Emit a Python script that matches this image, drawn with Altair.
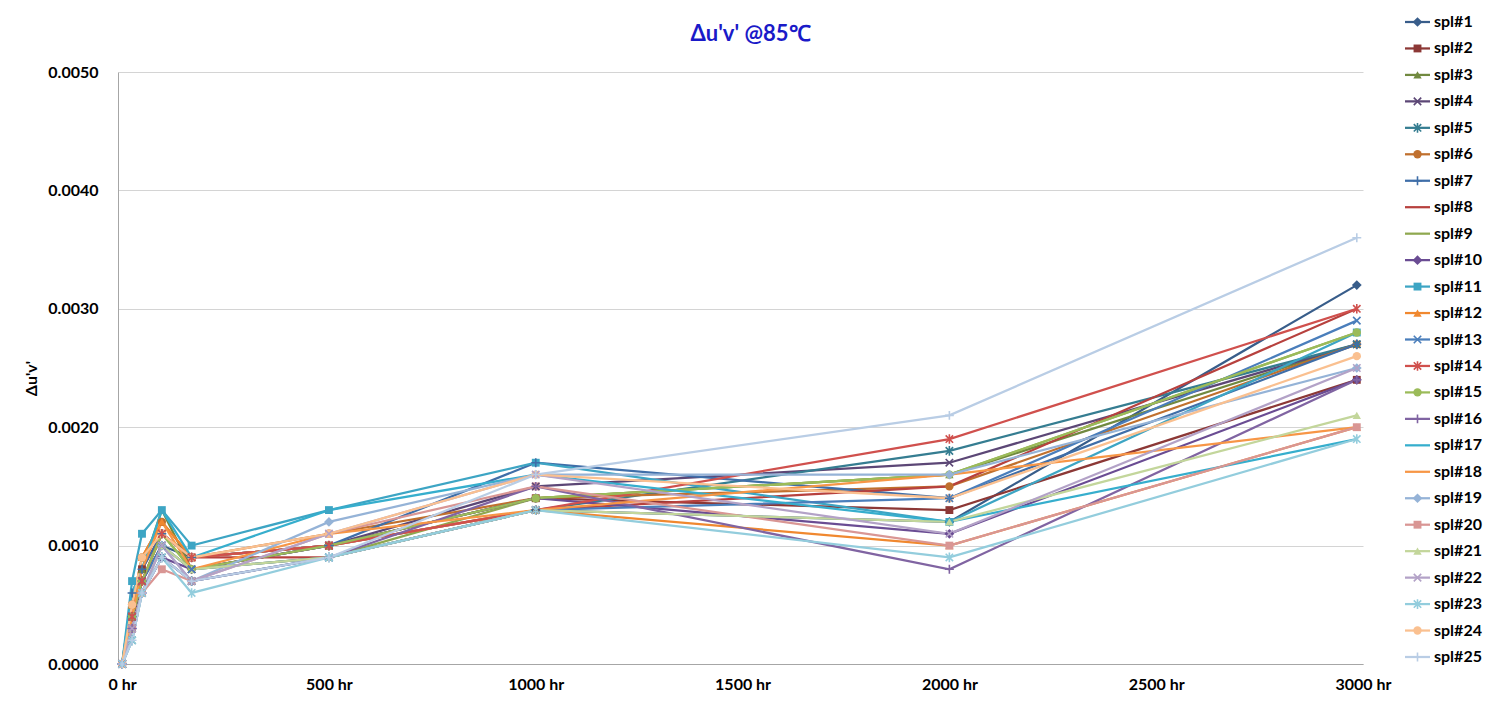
import altair as alt
import pandas as pd

# ---------------- data ----------------
hours = [0, 24, 48, 96, 168, 500, 1000, 2000, 2985]
series_names = [f"spl#{i}" for i in range(1, 26)]

spl01 = [0, 0.0004, 0.0007, 0.0010, 0.0009, 0.0010, 0.0013, 0.0012, 0.0032]
spl02 = [0, 0.0004, 0.0008, 0.0011, 0.0009, 0.0010, 0.0014, 0.0013, 0.0024]
spl03 = [0, 0.0005, 0.0008, 0.0013, 0.0008, 0.0010, 0.0014, 0.0016, 0.0027]
spl04 = [0, 0.0003, 0.0007, 0.0010, 0.0008, 0.0010, 0.0015, 0.0017, 0.0027]
spl05 = [0, 0.0002, 0.0006, 0.0009, 0.0007, 0.0009, 0.0013, 0.0018, 0.0027]
spl06 = [0, 0.0005, 0.0009, 0.0012, 0.0009, 0.0011, 0.0014, 0.0015, 0.0027]
spl07 = [0, 0.0006, 0.0008, 0.0011, 0.0009, 0.0010, 0.0017, 0.0014, 0.0027]
spl08 = [0, 0.0004, 0.0007, 0.0011, 0.0009, 0.0009, 0.0013, 0.0015, 0.0030]
spl09 = [0, 0.0004, 0.0007, 0.0011, 0.0008, 0.0009, 0.0014, 0.0016, 0.0028]
spl10 = [0, 0.0003, 0.0006, 0.0009, 0.0008, 0.0010, 0.0014, 0.0011, 0.0024]
spl11 = [0, 0.0007, 0.0011, 0.0013, 0.0010, 0.0013, 0.0017, 0.0012, 0.0028]
spl12 = [0, 0.0005, 0.0009, 0.0012, 0.0009, 0.0010, 0.0013, 0.0010, 0.0020]
spl13 = [0, 0.0004, 0.0007, 0.0010, 0.0008, 0.0009, 0.0013, 0.0014, 0.0029]
spl14 = [0, 0.0004, 0.0007, 0.0011, 0.0009, 0.0010, 0.0013, 0.0019, 0.0030]
spl15 = [0, 0.0004, 0.0007, 0.0011, 0.0008, 0.0010, 0.0014, 0.0016, 0.0028]
spl16 = [0, 0.0003, 0.0006, 0.0009, 0.0007, 0.0009, 0.0015, 0.0008, 0.0024]
spl17 = [0, 0.0006, 0.0008, 0.0013, 0.0009, 0.0013, 0.0016, 0.0012, 0.0019]
spl18 = [0, 0.0004, 0.0008, 0.0012, 0.0008, 0.0011, 0.0013, 0.0016, 0.0020]
spl19 = [0, 0.0003, 0.0006, 0.0010, 0.0007, 0.0012, 0.0016, 0.0016, 0.0025]
spl20 = [0, 0.0003, 0.0006, 0.0008, 0.0007, 0.0011, 0.0015, 0.0010, 0.0020]
spl21 = [0, 0.0003, 0.0006, 0.0010, 0.0008, 0.0009, 0.0013, 0.0012, 0.0021]
spl22 = [0, 0.0003, 0.0006, 0.0010, 0.0007, 0.0011, 0.0016, 0.0011, 0.0025]
spl23 = [0, 0.0002, 0.0006, 0.0009, 0.0006, 0.0009, 0.0013, 0.0009, 0.0019]
spl24 = [0, 0.0005, 0.0009, 0.0011, 0.0009, 0.0011, 0.0016, 0.0014, 0.0026]
spl25 = [0, 0.0002, 0.0006, 0.0009, 0.0007, 0.0009, 0.0016, 0.0021, 0.0036]

all_values = [spl01, spl02, spl03, spl04, spl05, spl06, spl07, spl08, spl09, spl10,
              spl11, spl12, spl13, spl14, spl15, spl16, spl17, spl18, spl19, spl20,
              spl21, spl22, spl23, spl24, spl25]

series_colors = ["#385D8A", "#8C3836", "#71893F", "#5C4776", "#357D91", "#C0702E",
                 "#3F6EA8", "#B7413E", "#8FA84F", "#6A4C93", "#3DA5C4", "#F0882F",
                 "#4A7EBB", "#D0504D", "#9BBB59", "#8064A2", "#36AECD", "#F79646",
                 "#95B3D7", "#D99694", "#C3D69B", "#B3A2C7", "#93CDDD", "#FAC090",
                 "#B9CDE5"]

series_markers = ["diamond", "square", "triangle", "x", "star", "circle", "plus", "none", "none",
                  "diamond", "square", "triangle", "x", "star", "circle", "plus", "none", "none",
                  "diamond", "square", "triangle", "x", "star", "circle", "plus"]

x_ticks = [0, 500, 1000, 1500, 2000, 2500, 3000]
y_ticks = [0, 0.001, 0.002, 0.003, 0.004, 0.005]

# marker styling
shape_map = {
    "diamond": ("diamond", 95, True),
    "square": ("square", 62, True),
    "triangle": ("triangle-up", 70, True),
    "circle": ("circle", 70, True),
    "x": ("M-1,-1L1,1M-1,1L1,-1", 55, False),
    "star": ("M-1,-1L1,1M-1,1L1,-1M0,-1.3L0,1.3", 55, False),
    "plus": ("M-1.2,0L1.2,0M0,-1.2L0,1.2", 55, False),
}

rows = []
leg_rows = []
for i, (name, vals, col, mk) in enumerate(zip(series_names, all_values, series_colors, series_markers)):
    shp, sz, filled = shape_map.get(mk, ("", 0, None))
    for h, v in zip(hours, vals):
        rows.append(dict(series=name, order=i, hour=h, value=v, color=col,
                         marker=mk, shape=shp, msize=sz, filled=filled))
    leg_rows.append(dict(series=name, idx=i, color=col, marker=mk, shape=shp,
                         msize=sz, filled=filled, x0=0.0, x1=1.0, xm=0.5))

df = pd.DataFrame(rows)
leg = pd.DataFrame(leg_rows)

FONT = "Lato"

xs = alt.Scale(domain=[-10, 3000], nice=False, zero=False)
ys = alt.Scale(domain=[0, 0.005], nice=False)

x_axis = alt.Axis(values=x_ticks, labelExpr="datum.value + ' hr'", grid=False, ticks=False,
                  title=None, labelPadding=12, labelFlush=False, domainColor="#A6A6A6")
y_axis = alt.Axis(values=y_ticks, format=".4f", grid=True, ticks=False, title="Δu'v'",
                  labelPadding=20, titlePadding=8, domainColor="#A6A6A6", gridColor="#D4D4D4",
                  titleY=306)

base = alt.Chart(df)
lines = base.mark_line(strokeWidth=2.25).encode(
    x=alt.X("hour:Q", scale=xs, axis=x_axis),
    y=alt.Y("value:Q", scale=ys, axis=y_axis),
    color=alt.Color("color:N", scale=None),
    detail="series:N",
    order="hour:Q",
)
pts_filled = base.transform_filter("datum.filled === true").mark_point(filled=True, opacity=1).encode(
    x=alt.X("hour:Q", scale=xs),
    y=alt.Y("value:Q", scale=ys),
    color=alt.Color("color:N", scale=None),
    shape=alt.Shape("shape:N", scale=None),
    size=alt.Size("msize:Q", scale=None),
)
pts_stroked = base.transform_filter("datum.filled === false").mark_point(filled=False, opacity=1, strokeWidth=1.6).encode(
    x=alt.X("hour:Q", scale=xs),
    y=alt.Y("value:Q", scale=ys),
    color=alt.Color("color:N", scale=None),
    shape=alt.Shape("shape:N", scale=None),
    size=alt.Size("msize:Q", scale=None),
)
main = alt.layer(lines, pts_filled, pts_stroked)

# legend built from the series table
lxs = alt.Scale(domain=[0, 1], range=[1287, 1312])
lys = alt.Scale(domain=[0, 24], range=[-50, 585])
lbase = alt.Chart(leg)
leg_line = lbase.mark_rule(strokeWidth=2.25).encode(
    x=alt.X("x0:Q", scale=lxs, axis=None),
    x2="x1:Q",
    y=alt.Y("idx:Q", scale=lys, axis=None),
    color=alt.Color("color:N", scale=None),
)
leg_pf = lbase.transform_filter("datum.filled === true").mark_point(filled=True, opacity=1).encode(
    x=alt.X("xm:Q", scale=lxs, axis=None),
    y=alt.Y("idx:Q", scale=lys, axis=None),
    color=alt.Color("color:N", scale=None),
    shape=alt.Shape("shape:N", scale=None),
    size=alt.Size("msize:Q", scale=None),
)
leg_ps = lbase.transform_filter("datum.filled === false").mark_point(filled=False, opacity=1, strokeWidth=1.6).encode(
    x=alt.X("xm:Q", scale=lxs, axis=None),
    y=alt.Y("idx:Q", scale=lys, axis=None),
    color=alt.Color("color:N", scale=None),
    shape=alt.Shape("shape:N", scale=None),
    size=alt.Size("msize:Q", scale=None),
)
leg_txt = lbase.mark_text(align="left", baseline="middle", dx=4, font=FONT, fontSize=16,
                          fontWeight="bold", color="#000000").encode(
    x=alt.X("x1:Q", scale=lxs, axis=None),
    y=alt.Y("idx:Q", scale=lys, axis=None),
    text="series:N",
)
legend = alt.layer(leg_line, leg_pf, leg_ps, leg_txt)

chart = alt.layer(main, legend).resolve_scale(
    x="independent", y="independent"
).properties(
    width=1245,
    height=592,
    autosize=alt.AutoSizeParams(type="none"),
    padding={"left": 110, "top": 64, "right": 129, "bottom": 36},
    background="white",
    title=alt.TitleParams("Δu'v' @85℃", font=FONT, fontSize=22, fontWeight="bold",
                          color="#1A1AC8", anchor="middle", frame="group", dx=10, offset=0, dy=32),
).configure_view(
    stroke=None
).configure_axis(
    labelFont=FONT, labelFontSize=16, labelFontWeight="bold", labelColor="#000000",
    titleFont=FONT, titleFontSize=16, titleFontWeight="bold", titleColor="#000000",
)

chart.save("out.html", embed_options={"renderer": "svg", "actions": False})
